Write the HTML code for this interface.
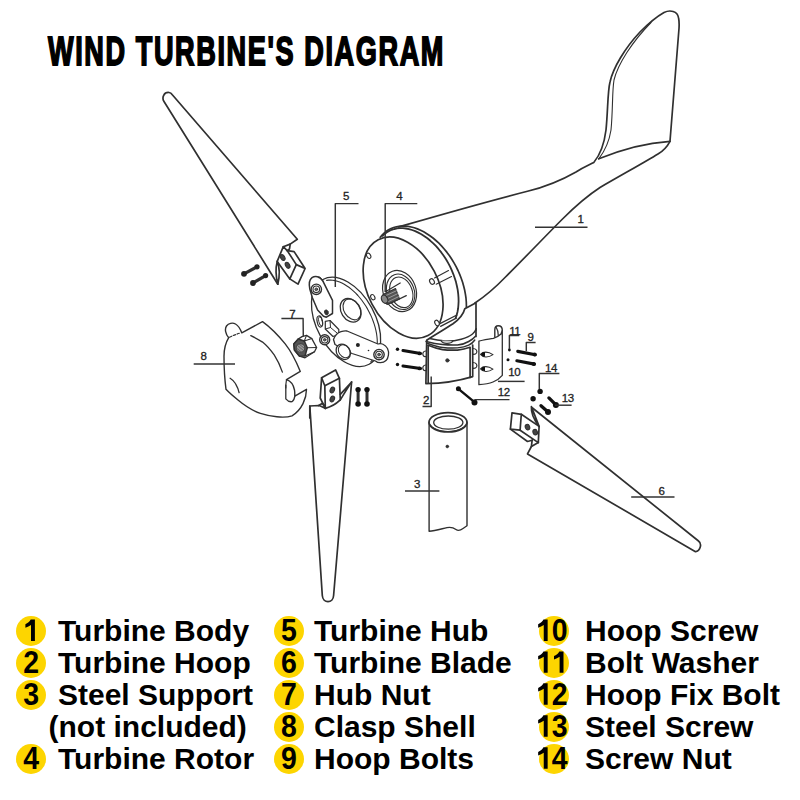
<!DOCTYPE html>
<html><head><meta charset="utf-8">
<style>
html,body{margin:0;padding:0;background:#fff;}
body{width:800px;height:800px;position:relative;overflow:hidden;font-family:"Liberation Sans",sans-serif;}
#title{position:absolute;left:47.6px;top:26.8px;font-weight:bold;font-size:40.5px;line-height:48px;white-space:nowrap;transform-origin:0 0;transform:scaleX(0.669);-webkit-text-stroke:1.8px #000;color:#000;letter-spacing:2.4px;}
svg{position:absolute;left:0;top:0;}
.c{position:absolute;width:30px;height:30px;border-radius:50%;background:#FDD500;}
.n{position:absolute;font-weight:bold;font-size:30px;line-height:30px;color:#000;white-space:nowrap;}
.t{position:absolute;font-weight:bold;font-size:30px;line-height:30px;color:#000;white-space:nowrap;}
</style></head><body>
<div id="title">WIND TURBINE'S DIAGRAM</div>

<svg id="dg" width="800" height="800" viewBox="0 0 800 800" fill="none" stroke="#303030" stroke-width="1.7" stroke-linejoin="round" stroke-linecap="round">
<!-- Blade A (top-left) -->
<g id="bladeA">
<path d="M277.8,284.2 L164,101.5 C161.5,97.5 164,92 169,92.5 C170.5,92.7 171.5,93.6 172.3,94.8 L297.3,239.3 L290.2,244.1 L283.3,246.7"/>
<path d="M290.2,244.1 L289.5,249 L287.2,250.6"/>
<path d="M277.2,261.4 C275.5,268 276,277 277.8,284.2 C279.5,277 280,268 277.2,261.4"/>
<path d="M283.3,246.7 L287.2,250.6 L296.3,264.6 L289.8,278.9 L277.2,261.4 Z"/>
<path d="M287.2,250.6 L294.1,251.6 L305.1,268.5 L298,284.1 L289.8,278.9 M296.3,264.6 L305.1,268.5"/>
<ellipse cx="282.7" cy="257.5" rx="2" ry="3.2" transform="rotate(-30 282.7 257.5)" fill="#444" stroke-width="1.1"/>
<ellipse cx="287.6" cy="265.3" rx="2" ry="3.2" transform="rotate(-30 287.6 265.3)" fill="#444" stroke-width="1.1"/>
</g>
<g id="boltsA" stroke-width="3.2">
<path d="M244,273.8 L257,266.8 M253,283 L265.6,275.6"/>
<circle cx="244" cy="273.8" r="2.9" fill="#222" stroke="none"/>
<circle cx="257" cy="266.8" r="2.6" fill="#222" stroke="none"/>
<circle cx="253" cy="283" r="2.9" fill="#222" stroke="none"/>
<circle cx="265.6" cy="275.6" r="2.6" fill="#222" stroke="none"/>
</g>
<!-- Blade B (bottom) -->
<g id="bladeB">
<path d="M309.8,418 L309.8,406 L318.7,405.5 C321,406 323,407.5 325.3,408.3"/>
<path d="M318.7,405.5 L322.5,403.2 L325.3,408.3"/>
<path d="M309.8,406 L322.3,595.5 C322.8,603.6 333.2,603.6 333.6,595.5 L351.6,382"/>
<path d="M325.3,408.3 C331,407 336,404 340.3,399.9 C344,394 348,387 351.6,382 L340.3,394.3"/>
<path d="M321.6,377.8 L335.6,369.9 L339.4,378.3 L324.8,385.8 Z"/>
<path d="M324.8,385.8 L325.3,408.3 M339.4,378.3 L340.3,399.9 M321.6,377.8 L320.2,398 L325.3,408.3"/>
<ellipse cx="332.3" cy="390" rx="2.1" ry="2.9" transform="rotate(25 332.3 390)" fill="#444" stroke-width="1.1"/>
<ellipse cx="332.3" cy="399" rx="2.1" ry="2.9" transform="rotate(25 332.3 399)" fill="#444" stroke-width="1.1"/>
</g>
<g id="boltsB" stroke-width="3">
<path d="M358.1,389.6 L358.1,403.6 M367,389.6 L367,403.6"/>
<circle cx="358.1" cy="389.6" r="2.7" fill="#111" stroke="none"/>
<circle cx="358.1" cy="404" r="2.8" fill="#111" stroke="none"/>
<circle cx="367" cy="389.6" r="2.7" fill="#111" stroke="none"/>
<circle cx="367" cy="404" r="2.8" fill="#111" stroke="none"/>
</g>
<!-- Blade C (right) -->
<g id="bladeC">
<path d="M532.5,408 L698.5,541 C702.5,544 700,551 695.5,551.7 L527.5,453.9 L531.4,446.5 L538.3,442.6"/>
<path d="M531.4,406.6 L539.1,426.4 M531.4,406.6 C531,412 532.5,418 539.1,426.4"/>
<path d="M531.4,446.5 L532.1,440.3"/>
<path d="M512,412.8 L521.3,414.3 L520.1,430.2 L510.4,429.1 Z"/>
<path d="M521.3,414.3 L539.1,426.4 L538.3,442.6 L520.1,430.2 M510.4,429.1 L527.5,441.5 L532.1,440.3"/>
<ellipse cx="527.5" cy="427.1" rx="2.2" ry="2.8" transform="rotate(-20 527.5 427.1)" fill="#444" stroke-width="1.1"/>
<ellipse cx="535.2" cy="432.2" rx="2.2" ry="2.8" transform="rotate(-20 535.2 432.2)" fill="#444" stroke-width="1.1"/>
</g>
<g id="body">
<path d="M398.7,226.9 C440,215 505,197 527.5,191.3 C545,187 562,180 576,172 C584,167 589,165 593.8,162.5 C600,155 604,146 606,130 C608,110 607.5,92 610,82 C613,68 625,48 640,32 C648,24 656,17 664,12.5 C670,9.5 677.5,11 678.6,18 C679.5,23 679.2,27 678.8,31 L670,141.3 C667,147 663,151 658,154 C645,162 625,173 600,187.5 C587,196 574.5,207 562.5,219 C547.5,234 526.5,256 505.5,277 C493,290 484,297 475,303 L466,312 L440,326 L372,300 L372,240 Z" fill="#fff" stroke="none"/>
<path d="M398.7,226.9 C440,215 505,197 527.5,191.3 C545,187 562,180 576,172 C584,167 589,165 593.8,162.5 C600,155 604,146 606,130 C608,110 607.5,92 610,82 C613,68 625,48 640,32 C648,24 656,17 664,12.5 C670,9.5 677.5,11 678.6,18 C679.5,23 679.2,27 678.8,31 L670,141.3 C667,147 663,151 658,154 C645,162 625,173 600,187.5 C587,196 574.5,207 562.5,219 C547.5,234 526.5,256 505.5,277 C493,290 484,297 475,303"/>
<path d="M598.8,158.8 C604,152 609,143 611,130 C613,110 612,92 614,80 C618,64 632,42 651,22.5" stroke-width="1.1"/>
<path d="M598.8,158.8 C620,150 645,143 670,141.3"/>
<path d="M380.2,237.3 L382.1,235.1 L384.1,233.1 L386.3,231.3 L388.6,229.8 L391.1,228.6 L393.7,227.5 L396.4,226.8 L399.2,226.3 L402.1,226.1 L405.0,226.1 L408.1,226.4 L411.2,227.0 L414.3,227.8 L417.4,228.9 L420.6,230.3 L423.7,231.8 L426.8,233.7 L429.9,235.7 L433.0,238.0 L435.9,240.5 L438.9,243.2 L441.7,246.1 L444.4,249.2 L447.0,252.4 L449.5,255.8 L451.8,259.3 L454.0,262.9 L456.1,266.7 L458.0,270.5 L459.7,274.4 L461.2,278.3 L462.6,282.3 L463.7,286.3 L464.7,290.3 L465.4,294.2 L466.0,298.2 L466.3,302.0 L466.4,305.8 L466.4,309.6"/>
<path d="M382.6,235.8 L384.6,233.9 L386.9,232.3 L389.2,230.9 L391.7,229.8 L394.4,229.0 L397.1,228.4 L400.0,228.2 L402.9,228.2 L405.9,228.5 L409.0,229.1 L412.1,230.0 L415.2,231.1 L418.3,232.6 L421.4,234.2 L424.4,236.2 L427.4,238.3 L430.4,240.8 L433.3,243.4 L436.1,246.2 L438.7,249.2 L441.3,252.4 L443.7,255.8 L446.0,259.3 L448.1,262.9 L450.1,266.6 L451.8,270.4 L453.4,274.3 L454.8,278.2 L456.0,282.1 L456.9,286.0 L457.7,289.9 L458.2,293.8 L458.5,297.6 L458.6,301.4 L458.4,305.0 L458.1,308.5 L457.5,311.9 L456.6,315.1 L455.6,318.2" stroke-width="1.8"/>
</g>
<g id="neck">
<path d="M475.6,303.1 L465,308.7 C463.5,314 459,319.5 453,323.8 C446,328.5 437,334 430,338 L426,350 L476.5,350 L476.5,303 Z" fill="#fff" stroke="none"/>
<path d="M475.6,303.1 L464.8,308.8 C463.5,314 459,319.5 453,323.8 C446,328.5 437,333.5 426.7,340.2"/>
<path d="M476,303.5 L476,330"/>
<path d="M440,323.7 L456.9,315 M440.6,326.3 L456.3,318.1" stroke-width="1.3"/>
</g>
<g id="hub">
<ellipse cx="346.05" cy="321.86" rx="48.3" ry="29.3" transform="rotate(61.4 346.05 321.86)" fill="#fff" stroke-width="1.3"/>
<path d="M326.6,280.4 L328.6,280.1 L330.6,280.1 L332.8,280.2 L335.0,280.6 L337.3,281.2 L339.6,282.0 L341.9,283.0 L344.2,284.2 L346.5,285.7 L348.9,287.3 L351.2,289.1 L353.5,291.1 L355.7,293.2 L357.9,295.5 L360.0,298.0 L362.0,300.5 L363.9,303.2 L365.8,306.0 L367.5,308.9 L369.1,311.9 L370.6,314.9 L371.9,317.9 L373.1,321.0 L374.2,324.1 L375.1,327.2 L375.9,330.3 L376.5,333.3 L376.9,336.3 L377.2,339.2 L377.3,342.0 L377.2,344.8 L377.0,347.4 L376.6,349.9 L376.0,352.3 L375.3,354.5 L374.4,356.6 L373.4,358.5 L372.2,360.2 L370.9,361.7" stroke-width="1.1"/>
<ellipse cx="350.6" cy="310.3" rx="12.6" ry="9.4" transform="rotate(58 350.6 310.3)" fill="#fff" stroke-width="1.3"/>
<ellipse cx="352.0" cy="309.4" rx="11.2" ry="8.0" transform="rotate(58 352.0 309.4)" stroke-width="1.1"/>
<path d="M309.8,289 C308.8,284 309.5,279.5 312,277.6 C315,275.5 320,276 322.9,281.1 L332.5,300.4 L332.5,313.5 L326.4,317.2 L323.5,316.2 L317.6,310 L312.4,297.8 Z" fill="#fff" stroke-width="1.5"/>
<path d="M318.8,276.6 C321,277.4 322.5,279.5 323.3,281.5" stroke-width="1"/>
<circle cx="316.3" cy="289.3" r="5.2" fill="#fff" stroke-width="1.4"/>
<circle cx="316.3" cy="289.3" r="3.3" fill="#fff" stroke-width="1.1"/>
<circle cx="316.3" cy="289.3" r="1.4" fill="#666" stroke-width="0.8"/>
<ellipse cx="326.4" cy="312.4" rx="1.8" ry="2.6" transform="rotate(-20 326.4 312.4)" fill="#333" stroke-width="0.8"/>
<ellipse cx="319.8" cy="321.5" rx="2.6" ry="5.6" transform="rotate(-12 319.8 321.5)" fill="#fff" stroke-width="1.2"/>
<ellipse cx="320.6" cy="321.3" rx="1.8" ry="4.6" transform="rotate(-12 320.6 321.3)" stroke-width="0.9"/>
<path d="M325.3,321.3 L330,320.5 L338.8,329.5 L338.8,334.5 L333,336.5 L325.3,329 Z" fill="#fff" stroke-width="1.2"/>
<path d="M325.3,329 L330.5,327.5 L338.8,334.5 M330,320.5 L330.5,327.5" stroke-width="1"/>
<path d="M333.5,339.5 C335,335 338,332.5 341,331.6 C343,331 345,330.6 347,331 L378,344 C381,343 385,344.5 387.5,348.5 C389.5,352.5 388.5,358 386,360.6 C383,363.3 378,363.3 375.5,361 L352,353.5 L335,344.5 Z" fill="#fff" stroke-width="1.3"/>
<circle cx="379" cy="354.6" r="5.2" fill="#fff" stroke-width="1.4"/>
<circle cx="379" cy="354.6" r="3.3" fill="#fff" stroke-width="1.1"/>
<circle cx="379" cy="354.6" r="1.4" fill="#666" stroke-width="0.8"/>
<circle cx="357.9" cy="344.9" r="2" fill="#222" stroke="none"/>
<circle cx="368.5" cy="350.5" r="0.8" fill="#222" stroke="none"/>
<circle cx="324.7" cy="339.8" r="5" fill="#fff" stroke-width="1.4"/>
<circle cx="324.7" cy="339.8" r="3.2" fill="#fff" stroke-width="1.1"/>
<circle cx="324.7" cy="339.8" r="1.3" fill="#666" stroke-width="0.8"/>
<ellipse cx="343.3" cy="351.8" rx="8.2" ry="6.6" transform="rotate(55 343.3 351.8)" fill="#fff" stroke-width="1.3"/>
<ellipse cx="344.3" cy="351.2" rx="7" ry="5.4" transform="rotate(55 344.3 351.2)" stroke-width="1"/>
</g>
<g id="clasp">
<path d="M228.7,337.7 C225.5,334 224.5,329 226.5,326 C228.5,323.3 232.5,322.3 235.5,324 C238.5,325.7 240.5,329.5 241.8,332.9 L262.5,321.6 C270,327 278,335 285.2,343.9 C290,350 296,361 300.3,371.4 L286.5,379.7 C290.5,381 293.5,385 294.5,390 C295,393.5 294.7,395 294.8,396.2 L306.5,389.3 C306.5,398 302,410 292,415.8 C284,418.5 270,416.5 260.4,413.4 C252,410.5 244,405 238,400 C233,396 229,392.5 226,389.3 C224.5,378 224,366 224,356.3 C224,351 225.5,343 228.7,337.7 Z" fill="#fff" stroke-width="1.4"/>
<path d="M229.5,337.2 C233,335.5 237,334 240.5,333" stroke-width="1.1" stroke-dasharray="2.5 1.5"/>
<path d="M286.5,379.7 C285.9,383 285.8,386 285.8,388" stroke-width="1.2"/>
<path d="M285.8,385.2 L285.8,398.9 C287.5,401 290,402 292,401.7 C294,400.5 294.5,398.5 294.8,396.2" stroke-width="1.3"/>
<path d="M250.8,335.6 C255,337.5 259,340 263.1,342.5 C267.5,346 271,350.5 274.2,354.9 C277.5,360 280.3,366 282.4,372.1" stroke-width="1.3"/>
<path d="M230.1,378.3 C232.5,379.8 234.5,381.8 235.6,383.8 C237.2,386.5 238.5,389.5 239.1,392.7" stroke-width="1.3"/>
</g>
<g id="nut">
<path d="M293.8,344 L298.2,339.1 L302,336.6 L306.5,335.4 L311.8,338.6 L316.6,347.5 L314.5,351.8 L305,357.8 L299.5,356.2 L294.4,350 Z" fill="#fff" stroke-width="1.3"/>
<path d="M293.8,344 L298.2,339.1 L304.3,341 L307.3,347.7 L305,356 L299.5,356.2 L294.4,350 Z" fill="#555" stroke-width="1.5"/>
<circle cx="300.5" cy="347.9" r="4.3" fill="#999" stroke="#444" stroke-width="1.1"/>
<path d="M297.5,345.5 L303.5,350.5 M297,348.5 L302,352.5 M299,344 L304,348" stroke="#555" stroke-width="0.8"/>
<path d="M304.3,341 L306.5,335.4 M304.3,341 L311.8,338.6 M307.3,347.7 L316.6,347.5 M305,356 L314.5,351.8" stroke-width="1.1"/>
<path d="M298.2,339.1 L304.3,341" stroke-width="1"/>
</g>
<g id="face">
<ellipse cx="403.1" cy="287.6" rx="54" ry="35.2" transform="rotate(62.5 403.1 287.6)" fill="#fff"/>
<!-- small holes -->
<ellipse cx="368.7" cy="255.8" rx="1.9" ry="2.8" transform="rotate(-30 368.7 255.8)" fill="#fff" stroke-width="1.1"/>
<ellipse cx="372.8" cy="297.2" rx="1.9" ry="2.8" transform="rotate(-30 372.8 297.2)" fill="#fff" stroke-width="1.1"/>
<ellipse cx="432" cy="281.5" rx="2.2" ry="3" transform="rotate(-30 432 281.5)" fill="#fff" stroke-width="1.1"/>
<ellipse cx="437" cy="323" rx="2" ry="3" transform="rotate(-30 437 323)" fill="#fff" stroke-width="1.1"/>
<path d="M434.5,278 L448.5,270.5 M436.2,284.2 L451.5,276.5" stroke-width="1.1"/>
<!-- shaft rings -->
<ellipse cx="399.6" cy="291" rx="21" ry="16.4" transform="rotate(70 399.6 291)" fill="#fff" stroke-width="1.2"/>
<ellipse cx="400.6" cy="291.8" rx="18.2" ry="13.6" transform="rotate(70 400.6 291.8)" stroke-width="1.1"/>
<ellipse cx="401.3" cy="292.3" rx="15.8" ry="11" transform="rotate(70 401.3 292.3)" stroke-width="1.1"/>
<!-- shaft -->
<path d="M385.5,291.8 L400.2,283 M390.5,303.2 L406.3,295.6" stroke-width="1.2"/>
<path d="M383,294.5 L395.5,288.5 L399.5,299 L387,304.5 Z" fill="#555" stroke-width="1.1"/>
<path d="M385,296 L397,290.5 M386.5,299 L398,293.5 M387.5,302 L399,296.5" stroke="#bbb" stroke-width="0.7"/>
<ellipse cx="384.6" cy="299.2" rx="3" ry="4.3" transform="rotate(-25 384.6 299.2)" fill="#888" stroke-width="1.2"/>
</g>
<g id="hoop">
<path d="M426.7,340.5 L425.9,383.6 C440,383.4 455,382 472.7,376.6 L472.7,345"/>
<path d="M429.7,338.5 C435,339.8 440,340.6 445,341 C451,341.3 456,340.6 461.2,339.2 C466,337.8 470,336 472.5,334 C474.3,332.5 475.5,330.8 476.2,328.7" stroke-width="1.5"/>
<path d="M441,340.5 C442,342.5 444,343.5 447,343.5 C450,343.5 452,342.5 453,341" fill="#ccc" stroke-width="1.2"/>
<path d="M426,341.5 C432,343 437,344 442.5,344.5 C448,345 453,345.1 457.5,344.9 C462,344.5 466,343.2 468.7,341.5 C471.5,340 474,338 475.5,336.2" stroke-width="1.5"/>
<path d="M426.7,343 C432,345 437,346.8 442.5,347.5 C448,348.1 453,348.2 457.5,347.9 C462,347.5 466,346.5 468.7,345.2 C471.5,343.8 473.5,342 474.8,340" stroke-width="1.4"/>
<path d="M428.2,345.3 C433,347.3 438,349 442.5,349.7 C448,350.3 453,350.3 457.5,350.1 C462,349.6 466,348.7 470.1,347.3 L470.1,377.5"/>
<path d="M428.2,345.3 L428.2,382.9"/>
<path d="M476,330 L476,336.5"/>
<circle cx="447.4" cy="360.4" r="1.7" fill="#333" stroke-width="0.8"/>
<!-- ears -->
<path d="M472.7,348.5 C476.5,348.5 477.5,351 476.5,353 C475.5,354.5 474,354.5 472.7,354.2 M472.7,362.5 C476.5,362.5 477.5,365 476.5,367 C475.5,368.5 474,368.5 472.7,368.2" stroke-width="1.2"/>
<path d="M425.9,351 C423,351 422.5,353.5 423,355 C423.5,356.5 425,356.8 425.9,356.5 M425.9,365 C423,365 422.5,367.5 423,369 C423.5,370.5 425,370.8 425.9,370.5" stroke-width="1.2"/>
</g>
<g id="tube">
<path d="M429.1,422.3 L429.1,531.3 C435,531 441,529 447,527.6 C451,526.8 454,528 456,529.5 C458,531 461,530 463,528.5 L467,525.7 L467,422.3" fill="#fff" stroke-width="1.4"/>
<ellipse cx="448" cy="422.3" rx="19" ry="9.6" fill="#fff" stroke-width="1.8"/>
<ellipse cx="448.3" cy="422.6" rx="14.6" ry="6.6" stroke-width="1.3"/>
<path d="M429.6,424 C433,429 440,431.5 448,431.6 C456,431.5 463,429 466.5,424" stroke-width="1"/>
<circle cx="447.3" cy="446.5" r="1.4" fill="#333" stroke-width="0.6"/>
</g>
<g id="clamp">
<path d="M478.9,341.1 C482,340 487,339.4 493.4,338.3 C497,337 499,336 501,334 L502.3,330.3 L502.3,375.3 C500,378 498,380 493,382 C489,383.5 485,384.2 478.9,384.7 Z" fill="#fff" stroke-width="1.3"/>
<path d="M494.8,337 L494.8,330 C494.8,327.3 496.2,325.8 498.2,325.8 C500.6,325.8 502.3,327.6 502.3,330.3" stroke-width="1.4"/>
<path d="M496.3,327.6 C497.6,329.5 498.3,332 498.3,335.5" stroke-width="1.2"/>
<path d="M480.5,354.3 C483,351.5 488,351.3 493,354.6 C488,358 483,357.5 480.5,354.3 Z M480.5,368.8 C483,366 488,365.8 493,369.1 C488,372.5 483,372 480.5,368.8 Z" fill="#fff" stroke-width="1.1"/>
<path d="M481,354.3 C481.5,352.6 483.5,352 485,352.3 L485,356.4 C483.5,356.6 481.5,356 481,354.3 Z M481,368.8 C481.5,367.1 483.5,366.5 485,366.8 L485,370.9 C483.5,371.1 481.5,370.5 481,368.8 Z" fill="#111" stroke="none"/>
</g>
<g id="bolts" fill="#111" stroke="none">
<!-- left of hoop -->
<circle cx="397.5" cy="349.2" r="1.7"/><circle cx="397.5" cy="364.5" r="1.7"/>
<path d="M403,350.5 L420.5,353.5 M403,366 L420.5,368.5" stroke="#111" stroke-width="3.1" stroke-linecap="round"/>
<circle cx="419.5" cy="353.4" r="1.9"/><circle cx="419.5" cy="368.4" r="1.9"/>
<!-- bolts 9 -->
<path d="M517.8,351.4 L535.3,354.7 M516.9,360.8 L534.4,364.1" stroke="#111" stroke-width="3.2" stroke-linecap="round"/>
<circle cx="534.6" cy="354.6" r="2"/><circle cx="533.7" cy="364" r="2"/>
<!-- 11 dots -->
<circle cx="509.4" cy="350" r="1.4"/><circle cx="508" cy="359.8" r="1.5"/>
<!-- bolt 12 -->
<path d="M458.4,388.8 L474.5,402.2" stroke="#111" stroke-width="2.4" stroke-linecap="round"/>
<circle cx="458.4" cy="388.8" r="2.5"/><circle cx="474.5" cy="402.4" r="3"/>
<!-- 14 dots -->
<circle cx="540.1" cy="391.4" r="2.7"/><circle cx="533.1" cy="398.7" r="2.7"/>
<!-- bolts 13 -->
<path d="M548.9,397.9 L555.9,404.9 M541,405.7 L548,411.9" stroke="#111" stroke-width="3.3" stroke-linecap="round"/>
<circle cx="555.9" cy="404.9" r="3"/><circle cx="548" cy="411.9" r="3"/>
</g>
<g id="leaders" stroke="#333" stroke-width="1.45" stroke-linecap="butt">
<path d="M535,227.2 L587.5,227.2"/>
<path d="M431.2,376.6 L431.2,406.4 L422.5,406.4"/>
<path d="M405,490.9 L439.4,490.9"/>
<path d="M417.3,203.6 L385.2,203.6 L385.2,292"/>
<path d="M358.5,203.6 L335.3,203.6 L335.3,287"/>
<path d="M631.2,497 L674.5,497"/>
<path d="M281.4,318.5 L303.1,318.5 L303.3,336.2"/>
<path d="M193.7,363.9 L235,363.9"/>
<path d="M535.6,342.5 L526.3,342.5 L526.3,351.2"/>
<path d="M498,381.4 L524.6,381.4"/>
<path d="M519.2,335.5 L509.4,335.5 L509.4,349"/>
<path d="M474.5,399.6 L509.5,399.6"/>
<path d="M571.6,405.2 L555,405.2"/>
<path d="M559.4,373.4 L539.3,373.4 L539.3,389.1"/>
</g>
<g id="labels" font-family="Liberation Sans, sans-serif" font-size="11.5" fill="#222" stroke="#222" stroke-width="0.3" letter-spacing="-0.4">
<text x="577.5" y="223">1</text>
<text x="423" y="404">2</text>
<text x="414" y="488">3</text>
<text x="396.3" y="200">4</text>
<text x="343" y="200">5</text>
<text x="658.5" y="494.5">6</text>
<text x="289.3" y="317.5">7</text>
<text x="200.5" y="360">8</text>
<text x="527.5" y="341.2">9</text>
<text x="508.2" y="376.2">10</text>
<text x="509.2" y="335">11</text>
<text x="497.7" y="396.3">12</text>
<text x="561.7" y="402.4">13</text>
<text x="545" y="372.3">14</text>
</g>

</svg>

<div id="legend">
<div class="c" style="left:16.0px;top:616.2px"></div>
<div class="t" style="left:58.0px;top:616.0px">Turbine Body</div>
<div class="c" style="left:16.0px;top:648.0px"></div>
<div class="t" style="left:58.0px;top:647.8px">Turbine Hoop</div>
<div class="c" style="left:16.0px;top:679.9px"></div>
<div class="t" style="left:58.0px;top:679.7px">Steel Support</div>
<div class="t" style="left:48.5px;top:711.7px">(not included)</div>
<div class="c" style="left:16.0px;top:743.9px"></div>
<div class="t" style="left:58.0px;top:743.7px">Turbine Rotor</div>
<div class="c" style="left:273.6px;top:616.2px"></div>
<div class="t" style="left:314.0px;top:616.0px">Turbine Hub</div>
<div class="c" style="left:273.6px;top:648.0px"></div>
<div class="t" style="left:314.0px;top:647.8px">Turbine Blade</div>
<div class="c" style="left:273.6px;top:679.9px"></div>
<div class="t" style="left:314.0px;top:679.7px">Hub Nut</div>
<div class="c" style="left:273.6px;top:711.9px"></div>
<div class="t" style="left:314.0px;top:711.7px">Clasp Shell</div>
<div class="c" style="left:273.6px;top:743.9px"></div>
<div class="t" style="left:314.0px;top:743.7px">Hoop Bolts</div>
<div class="c" style="left:538.8px;top:616.2px"></div>
<div class="t" style="left:585.0px;top:616.0px">Hoop Screw</div>
<div class="c" style="left:538.8px;top:648.0px"></div>
<div class="t" style="left:585.0px;top:647.8px">Bolt Washer</div>
<div class="c" style="left:538.8px;top:679.9px"></div>
<div class="t" style="left:585.0px;top:679.7px">Hoop Fix Bolt</div>
<div class="c" style="left:538.8px;top:711.9px"></div>
<div class="t" style="left:585.0px;top:711.7px">Steel Screw</div>
<div class="c" style="left:538.8px;top:743.9px"></div>
<div class="t" style="left:585.0px;top:743.7px">Screw Nut</div>
</div>
<svg id="nums" width="800" height="800" style="position:absolute;left:0;top:0" fill="#000" stroke="none" font-family="Liberation Sans, sans-serif" font-weight="bold" font-size="28.5">
<path d="M31.00,619.60 L34.90,619.60 L34.90,641.00 L31.00,641.00 L31.00,625.00 C29.30,626.20 27.50,627.10 25.40,627.80 L25.40,624.30 C27.70,623.20 29.70,621.50 30.70,619.60 Z"/>
<text transform="translate(31.2,673.1) scale(1,1.12)" text-anchor="middle">2</text>
<text transform="translate(31.2,705.0) scale(1,1.12)" text-anchor="middle">3</text>
<text transform="translate(31.2,769.0) scale(1,1.12)" text-anchor="middle">4</text>
<text transform="translate(288.9,641.3) scale(1,1.12)" text-anchor="middle">5</text>
<text transform="translate(288.9,673.1) scale(1,1.12)" text-anchor="middle">6</text>
<text transform="translate(288.9,705.0) scale(1,1.12)" text-anchor="middle">7</text>
<text transform="translate(288.9,737.0) scale(1,1.12)" text-anchor="middle">8</text>
<text transform="translate(288.9,769.0) scale(1,1.12)" text-anchor="middle">9</text>
<path d="M543.75,619.60 L547.65,619.60 L547.65,641.00 L543.75,641.00 L543.75,625.00 C542.05,626.20 540.25,627.10 538.15,627.80 L538.15,624.30 C540.45,623.20 542.45,621.50 543.45,619.60 Z"/>
<text transform="translate(559.7,641.3) scale(1,1.12)" text-anchor="middle">0</text>
<path d="M543.75,651.40 L547.65,651.40 L547.65,672.80 L543.75,672.80 L543.75,656.80 C542.05,658.00 540.25,658.90 538.15,659.60 L538.15,656.10 C540.45,655.00 542.45,653.30 543.45,651.40 Z"/>
<path d="M559.60,651.40 L563.50,651.40 L563.50,672.80 L559.60,672.80 L559.60,656.80 C557.90,658.00 556.10,658.90 554.00,659.60 L554.00,656.10 C556.30,655.00 558.30,653.30 559.30,651.40 Z"/>
<path d="M543.75,683.30 L547.65,683.30 L547.65,704.70 L543.75,704.70 L543.75,688.70 C542.05,689.90 540.25,690.80 538.15,691.50 L538.15,688.00 C540.45,686.90 542.45,685.20 543.45,683.30 Z"/>
<text transform="translate(559.7,705.0) scale(1,1.12)" text-anchor="middle">2</text>
<path d="M543.75,715.30 L547.65,715.30 L547.65,736.70 L543.75,736.70 L543.75,720.70 C542.05,721.90 540.25,722.80 538.15,723.50 L538.15,720.00 C540.45,718.90 542.45,717.20 543.45,715.30 Z"/>
<text transform="translate(559.7,737.0) scale(1,1.12)" text-anchor="middle">3</text>
<path d="M543.75,747.30 L547.65,747.30 L547.65,768.70 L543.75,768.70 L543.75,752.70 C542.05,753.90 540.25,754.80 538.15,755.50 L538.15,752.00 C540.45,750.90 542.45,749.20 543.45,747.30 Z"/>
<text transform="translate(559.7,769.0) scale(1,1.12)" text-anchor="middle">4</text>
</svg>
</body></html>
